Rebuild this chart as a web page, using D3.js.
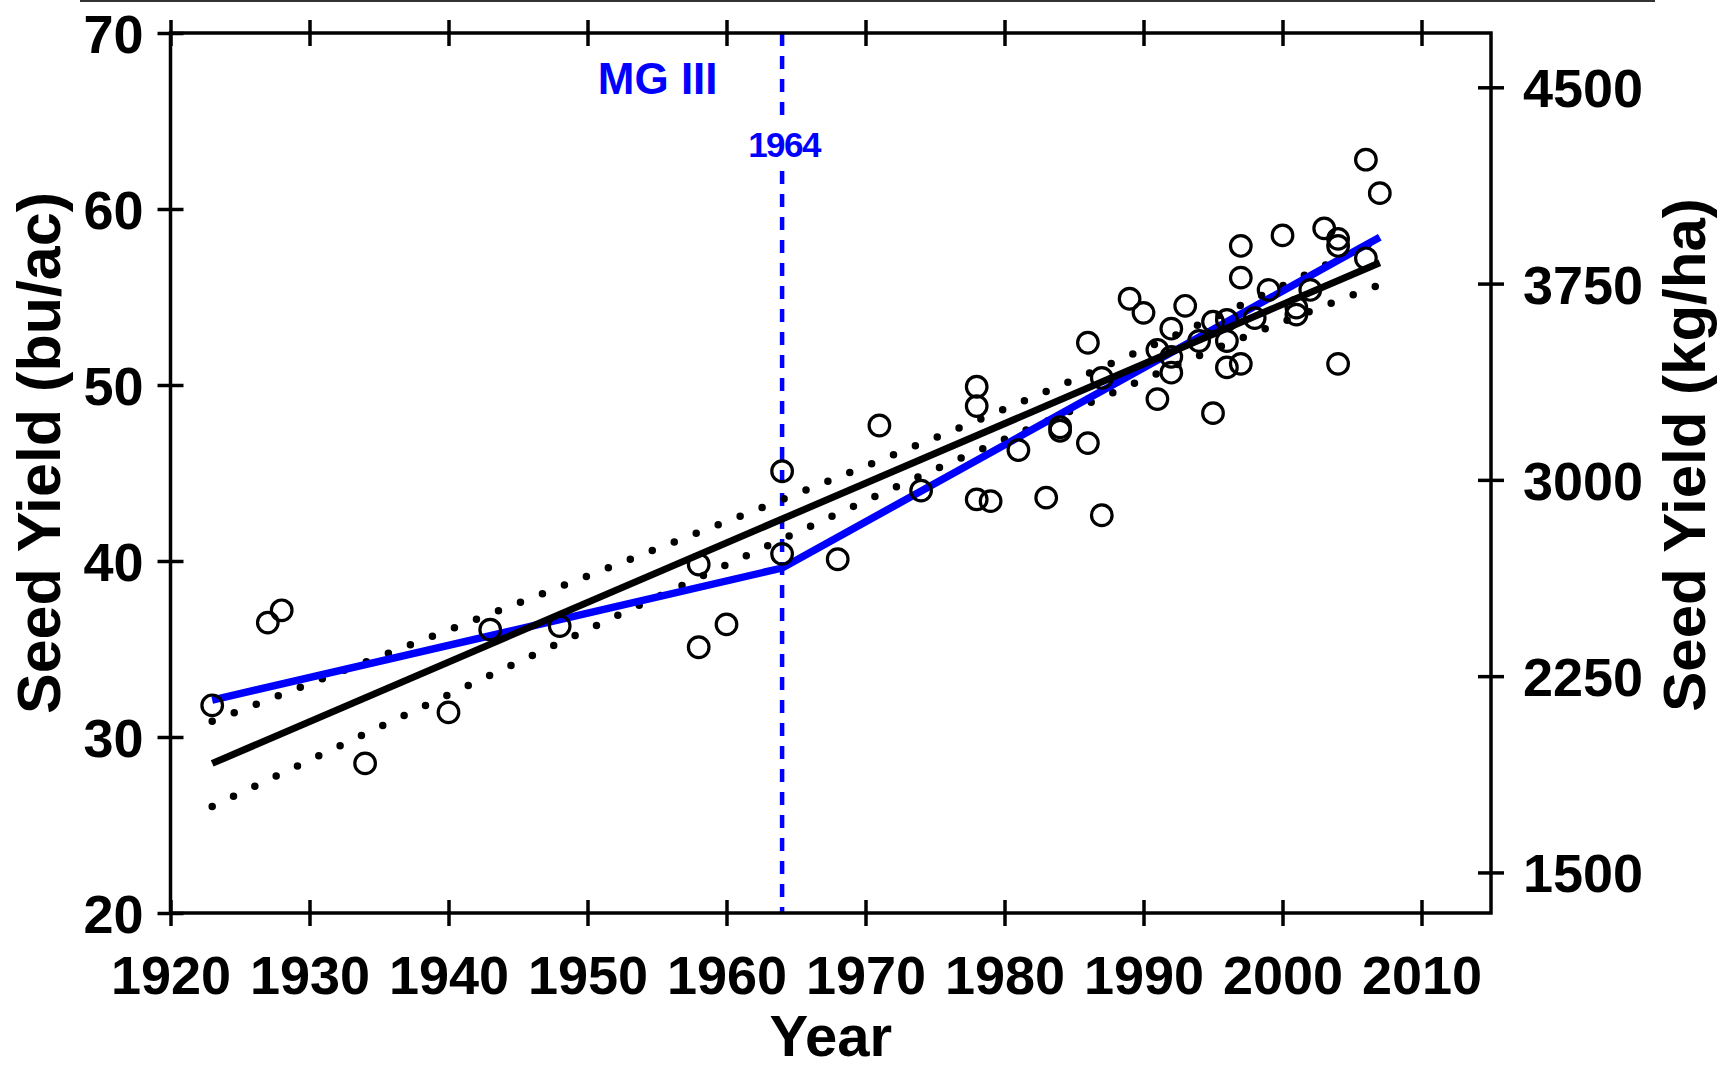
<!DOCTYPE html>
<html>
<head>
<meta charset="utf-8">
<script src="https://cdn.jsdelivr.net/npm/d3@7"></script>
<style>
  body { margin: 0; background: #fff; }
  svg { display: block; font-family: 'Liberation Sans', Arial, sans-serif; font-weight: bold; }
</style>
</head>
<body>
<div class="canvas"></div>
<script>
// !--------------------------------------------------------------data content below

// observed yields (bu/ac) by release year
const years = [
  1923, 1927, 1928, 1934, 1940, 1943, 1948, 1958, 1958, 1960,
  1964, 1964, 1968, 1971, 1974, 1978, 1978, 1978, 1979, 1981,
  1983, 1984, 1984, 1986, 1986, 1987, 1987, 1989, 1990, 1991,
  1991, 1992, 1992, 1992, 1993, 1994, 1995, 1995, 1996, 1996,
  1996, 1997, 1997, 1997, 1998, 1999, 2000, 2001, 2001, 2002,
  2003, 2004, 2004, 2004, 2006, 2006, 2007,
];
const yields = [
  31.8, 36.5, 37.2, 28.5, 31.4, 36.1, 36.3, 39.8, 35.1, 36.4,
  45.1, 40.4, 40.1, 47.7, 44.0, 49.9, 48.8, 43.5, 43.4, 46.3,
  43.6, 47.6, 47.4, 52.4, 46.7, 50.4, 42.6, 54.9, 54.1, 52.0,
  49.2, 53.2, 51.6, 50.7, 54.5, 52.5, 53.6, 48.4, 53.7, 52.5,
  51.0, 57.9, 56.1, 51.2, 53.8, 55.4, 58.5, 54.4, 54.0, 55.4,
  58.9, 58.3, 57.9, 51.2, 62.8, 57.2, 60.9,
];

// segmented fit (blue), break at MG III year
const segYears = [1923, 1964, 2007];
const segYield = [32.1, 39.6, 58.4];

// linear fit (black)
const fitYears = [1923, 2007];
const fitYield = [28.5, 56.95];

// confidence band (dotted)
const bandYears = [1923, 1935, 1945, 1955, 1965, 1975, 1985, 1995, 2007];
const bandUpper = [30.9, 34.55, 37.6, 40.7, 43.8, 47.0, 50.3, 53.8, 58.3];
const bandLower = [26.05, 30.55, 34.25, 37.95, 41.6, 45.2, 48.6, 52.0, 55.7];

// axis ticks
const yearTicks = [1920, 1930, 1940, 1950, 1960, 1970, 1980, 1990, 2000, 2010];
const buTicks = [20, 30, 40, 50, 60, 70];
const kgTicks = [1500, 2250, 3000, 3750, 4500];
const kgPerBu = 67.25;

const breakYear = 1964;
const breakLabel = 'MG III';

// !----------------------------------------------------------graph content below

const dims = { width: 1725, height: 1070, left: 170.5, right: 1491, top: 33, bottom: 913 };
const blue = '#0000ff';

const svg = d3
  .select('.canvas')
  .append('svg')
  .attr('width', dims.width)
  .attr('height', dims.height);

// header rule at the very top
svg
  .append('line')
  .attr('x1', 80)
  .attr('x2', 1655)
  .attr('y1', 1)
  .attr('y2', 1)
  .attr('stroke', '#333')
  .attr('stroke-width', 2);

const x = d3.scaleLinear().domain([1920, 2015]).range([dims.left, dims.right]);
const y = d3.scaleLinear().domain([20, 70]).range([dims.bottom, dims.top]);
const yKg = d3.scaleLinear().domain([20 * kgPerBu, 70 * kgPerBu]).range([dims.bottom, dims.top]);

// MG III break line (drawn under everything)
const dashGroup = svg.append('g');
[[dims.top, 118], [171, dims.bottom]].forEach(([a, b]) => {
  dashGroup
    .append('line')
    .attr('x1', x(breakYear))
    .attr('x2', x(breakYear))
    .attr('y1', a)
    .attr('y2', b)
    .attr('stroke', blue)
    .attr('stroke-width', 4.5)
    .attr('stroke-dasharray', '13 10');
});

svg
  .append('text')
  .attr('x', x(breakYear) + 2)
  .attr('y', 157)
  .attr('text-anchor', 'middle')
  .attr('font-size', 35)
  .attr('fill', blue)
  .style('letter-spacing', '-1.5px')
  .text(breakYear);

svg
  .append('text')
  .attr('x', x(1955.05))
  .attr('y', 94)
  .attr('text-anchor', 'middle')
  .attr('font-size', 44)
  .attr('fill', blue)
  .text(breakLabel);

// lines
const line = d3
  .line()
  .x((d) => x(d[0]))
  .y((d) => y(d[1]));

const band = d3
  .line()
  .curve(d3.curveMonotoneX)
  .x((d) => x(d[0]))
  .y((d) => y(d[1]));

[bandUpper, bandLower].forEach((vals) => {
  svg
    .append('path')
    .attr('d', band(bandYears.map((yr, i) => [yr, vals[i]])))
    .attr('fill', 'none')
    .attr('stroke', '#000')
    .attr('stroke-width', 7.5)
    .attr('stroke-linecap', 'round')
    .attr('stroke-dasharray', '0 23.6');
});

svg
  .append('path')
  .attr('d', line(segYears.map((yr, i) => [yr, segYield[i]])))
  .attr('fill', 'none')
  .attr('stroke', blue)
  .attr('stroke-width', 7.5);

svg
  .append('path')
  .attr('d', line(fitYears.map((yr, i) => [yr, fitYield[i]])))
  .attr('fill', 'none')
  .attr('stroke', '#000')
  .attr('stroke-width', 7);

// open circles
svg
  .append('g')
  .selectAll('circle')
  .data(years.map((yr, i) => ({ year: yr, value: yields[i] })))
  .enter()
  .append('circle')
  .attr('cx', (d) => x(d.year))
  .attr('cy', (d) => y(d.value))
  .attr('r', 10.3)
  .attr('fill', 'none')
  .attr('stroke', '#000')
  .attr('stroke-width', 3.2);

// axes with ticks crossing the frame
const tickLen = 13;
const styleAxis = (g, horizontal) => {
  g.select('.domain').remove();
  g.selectAll('.tick line')
    .attr('stroke', '#000')
    .attr('stroke-width', 3.5)
    .attr(horizontal ? 'y1' : 'x1', -tickLen)
    .attr(horizontal ? 'y2' : 'x2', tickLen);
  g.selectAll('.tick text')
    .attr('fill', '#000')
    .attr('font-size', 54)
    .attr('font-family', "'Liberation Sans', Arial, sans-serif")
    .attr('font-weight', 'bold');
};

svg
  .append('g')
  .attr('transform', `translate(0, ${dims.bottom})`)
  .call(d3.axisBottom(x).tickValues(yearTicks).tickFormat(d3.format('d')).tickPadding(28))
  .call((g) => styleAxis(g, true))
  .selectAll('.tick text')
  .attr('y', 81)
  .attr('dy', 0);

svg
  .append('g')
  .attr('transform', `translate(0, ${dims.top})`)
  .call(d3.axisTop(x).tickValues(yearTicks).tickFormat(''))
  .call((g) => styleAxis(g, true));

svg
  .append('g')
  .attr('transform', `translate(${dims.left}, 0)`)
  .call(d3.axisLeft(y).tickValues(buTicks).tickPadding(14))
  .call((g) => styleAxis(g, false))
  .selectAll('.tick text')
  .attr('x', -27)
  .attr('dy', '0.36em');

svg
  .append('g')
  .attr('transform', `translate(${dims.right}, 0)`)
  .call(d3.axisRight(yKg).tickValues(kgTicks).tickFormat(d3.format('d')))
  .call((g) => styleAxis(g, false))
  .selectAll('.tick text')
  .attr('x', 32)
  .attr('dy', '0.36em');

// frame
svg
  .append('rect')
  .attr('x', dims.left)
  .attr('y', dims.top)
  .attr('width', dims.right - dims.left)
  .attr('height', dims.bottom - dims.top)
  .attr('fill', 'none')
  .attr('stroke', '#000')
  .attr('stroke-width', 3.5);

// axis titles
svg
  .append('text')
  .attr('x', (dims.left + dims.right) / 2)
  .attr('y', 1056)
  .attr('text-anchor', 'middle')
  .attr('font-size', 58)
  .text('Year');

svg
  .append('text')
  .attr('transform', `translate(60, 453) rotate(-90)`)
  .attr('text-anchor', 'middle')
  .attr('font-size', 61)
  .text('Seed Yield (bu/ac)');

svg
  .append('text')
  .attr('transform', `translate(1705, 455) rotate(-90)`)
  .attr('text-anchor', 'middle')
  .attr('font-size', 60)
  .text('Seed Yield (kg/ha)');
</script>
</body>
</html>
